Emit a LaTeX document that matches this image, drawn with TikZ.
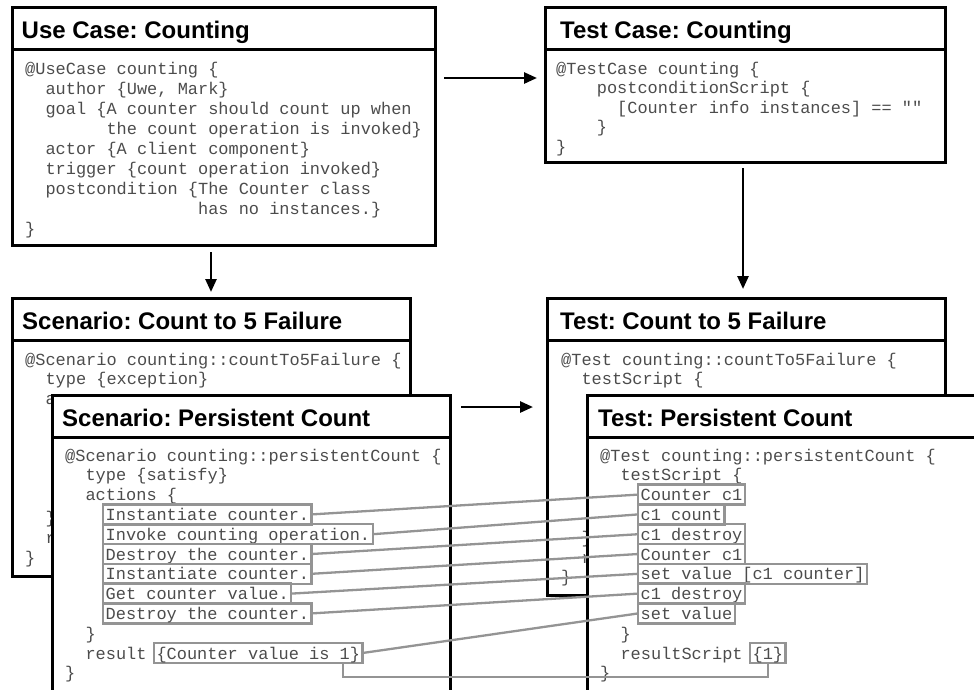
\documentclass[tikz,border=0pt]{standalone}
\usepackage{fontspec}
\setmainfont{Liberation Sans}
\setmonofont{Liberation Mono}
\newfontfamily\ttlfam{Liberation Sans}
\usetikzlibrary{arrows.meta,calc}
\definecolor{codegray}{gray}{0.3}
\definecolor{linkgray}{gray}{0.58}
\newcommand\codefont{\ttfamily\fontsize{16.95pt}{19.8pt}\selectfont\frenchspacing}
\newcommand\ttlfont{\ttlfam\bfseries\fontsize{24pt}{28pt}\selectfont\frenchspacing}
\tikzset{
  umlbox/.style={draw, line width=3pt, fill=white, anchor=north west, inner sep=0pt, outer sep=0pt},
  boxline/.style={line width=3pt},
  ttl/.style={font=\ttlfont, anchor=base west, inner sep=0pt},
  code/.style={font=\codefont, text=codegray, anchor=base west, inner sep=0pt},
  item/.style={draw=linkgray, line width=2.3pt, font=\codefont, text=codegray, anchor=base west,
    inner xsep=2.5pt, inner ysep=0pt, text height=16pt, text depth=4pt, outer sep=0pt},
  link/.style={draw=linkgray, line width=2.3pt},
  arr/.style={-{Triangle[length=13pt,width=11pt]}, line width=2.6pt},
}
% #1 name, #2 left, #3 top, #4 width, #5 height, #6 title x offset, #7 title
\newcommand\umlbx[7]{%
  \node[umlbox, minimum width=#4pt, minimum height=#5pt] (#1) at (#2,#3) {};
  \draw[boxline] ($(#1.north west)+(0,42)$) -- ($(#1.north east)+(0,42)$);
  \node[ttl] (#1-title) at ($(#1.north west)+(#6,31.5)$) {#7};
}
\begin{document}
\begin{tikzpicture}[x=1pt, y=-1pt]
\useasboundingbox (0,0) rectangle (974,689);
\fill[white] (0,0) rectangle (974,689);
\clip (0,0) rectangle (974,689);

% ---------- Use Case ----------
\umlbx{uc}{12}{7}{423}{238}{9.5}{Use Case: Counting}
\begin{scope}[shift={(25,74)}, y=-20pt]
  \node[code] (uc0) at (0,0) {@UseCase counting \{};
  \node[code] (uc1) at (0,1) {~~author \{Uwe, Mark\}};
  \node[code] (uc2) at (0,2) {~~goal \{A counter should count up when};
  \node[code] (uc3) at (0,3) {~~~~~~~~the count operation is invoked\}};
  \node[code] (uc4) at (0,4) {~~actor \{A client component\}};
  \node[code] (uc5) at (0,5) {~~trigger \{count operation invoked\}};
  \node[code] (uc6) at (0,6) {~~postcondition \{The Counter class};
  \node[code] (uc7) at (0,7) {~~~~~~~~~~~~~~~~~has no instances.\}};
  \node[code] (uc8) at (0,8) {\}};
\end{scope}

% ---------- Test Case ----------
\umlbx{tc}{545}{7}{400}{155}{15}{Test Case: Counting}
\begin{scope}[shift={(556,74)}, y=-19.6pt]
  \node[code] (tc0) at (0,0) {@TestCase counting \{};
  \node[code] (tc1) at (0,1) {~~~~postconditionScript \{};
  \node[code] (tc2) at (0,2) {~~~~~~[Counter info instances] == ""};
  \node[code] (tc3) at (0,3) {~~~~\}};
  \node[code] (tc4) at (0,4) {\}};
\end{scope}

\draw[arr] ($(uc.north east)+(9,71)$) -- ($(tc.north west)+(-8,71)$);

% ---------- Scenario: Count to 5 Failure ----------
\umlbx{sf}{12}{298}{398}{278}{10}{Scenario: Count to 5 Failure}
\begin{scope}[shift={(25,365)}, y=-19.8pt]
  \node[code] (sf0) at (0,0) {@Scenario counting::countTo5Failure \{};
  \node[code] (sf1) at (0,1) {~~type \{exception\}};
  \node[code] (sf2) at (0,2) {~~a};
  \node[code] (sf8) at (0,8) {~~\}};
  \node[code] (sf9) at (0,9) {~~r};
  \node[code] (sf10) at (0,10) {\}};
\end{scope}

% ---------- Test: Count to 5 Failure ----------
\umlbx{tf}{547}{298}{398}{297}{13}{Test: Count to 5 Failure}
\begin{scope}[shift={(561,365)}, y=-19.8pt]
  \node[code] (tf0) at (0,0) {@Test counting::countTo5Failure \{};
  \node[code] (tf1) at (0,1) {~~testScript \{};
  \node[code] (tf9) at (0,9) {~~\}};
  \node[code] (tf10) at (0,10) {~~r};
  \node[code] (tf11) at (0,11) {\}};
\end{scope}

\draw[arr] ($(sf.north |- uc.south)+(0,7)$) -- ($(sf.north)+(0,-6)$);
\draw[arr] ($(tc.south)+(-2,6)$) -- ($(tf.north)+(-3,-9)$);

% ---------- Scenario: Persistent Count ----------
\umlbx{sp}{52}{395}{398}{320}{10}{Scenario: Persistent Count}
\begin{scope}[shift={(65,461)}, y=-19.8pt]
  \node[code] (sp0) at (0,0) {@Scenario counting::persistentCount \{};
  \node[code] (sp1) at (0,1) {~~type \{satisfy\}};
  \node[code] (sp2) at (0,2) {~~actions \{};
  \node[item] (si1) at (38.2,3) {Instantiate counter.};
  \node[item] (si2) at (38.2,4) {Invoke counting operation.};
  \node[item] (si3) at (38.2,5) {Destroy the counter.};
  \node[item] (si4) at (38.2,6) {Instantiate counter.};
  \node[item] (si5) at (38.2,7) {Get counter value.};
  \node[item] (si6) at (38.2,8) {Destroy the counter.};
  \node[code] (sp9) at (0,9) {~~\}};
  \node[code] (sp10) at (0,10) {~~result};
  \node[item] (sres) at (89.05,10) {\{Counter value is 1\}};
  \node[code] (sp11) at (0,11) {\}};
\end{scope}

\draw[arr] ($(sp.north east)+(11,12)$) -- ($(tf.west |- sp.north)+(-14,12)$);

% ---------- Test: Persistent Count ----------
\umlbx{tp}{587}{395}{398}{320}{11}{Test: Persistent Count}
\begin{scope}[shift={(600,461)}, y=-19.8pt]
  \node[code] (tp0) at (0,0) {@Test counting::persistentCount \{};
  \node[code] (tp1) at (0,1) {~~testScript \{};
  \node[item] (ti1) at (38.2,2) {Counter c1};
  \node[item] (ti2) at (38.2,3) {c1 count};
  \node[item] (ti3) at (38.2,4) {c1 destroy};
  \node[item] (ti4) at (38.2,5) {Counter c1};
  \node[item] (ti5) at (38.2,6) {set value [c1 counter]};
  \node[item] (ti6) at (38.2,7) {c1 destroy};
  \node[item] (ti7) at (38.2,8) {set value};
  \node[code] (tp9) at (0,9) {~~\}};
  \node[code] (tp10) at (0,10) {~~resultScript};
  \node[item] (tres) at (150.1,10) {\{1\}};
  \node[code] (tp11) at (0,11) {\}};
\end{scope}

% ---------- mapping links ----------
\draw[link] (si1.east) -- (ti1.west);
\draw[link] (si2.east) -- (ti2.west);
\draw[link] (si3.east) -- (ti3.west);
\draw[link] (si4.east) -- (ti4.west);
\draw[link] (si5.east) -- (ti5.west);
\draw[link] (si6.east) -- (ti6.west);
\draw[link] (sres.east) -- (ti7.west);
\draw[link] ($(sres.south west)+(189,0)$) |- ($(tres.south)+(0,14)$) -- (tres.south);
\end{tikzpicture}
\end{document}
